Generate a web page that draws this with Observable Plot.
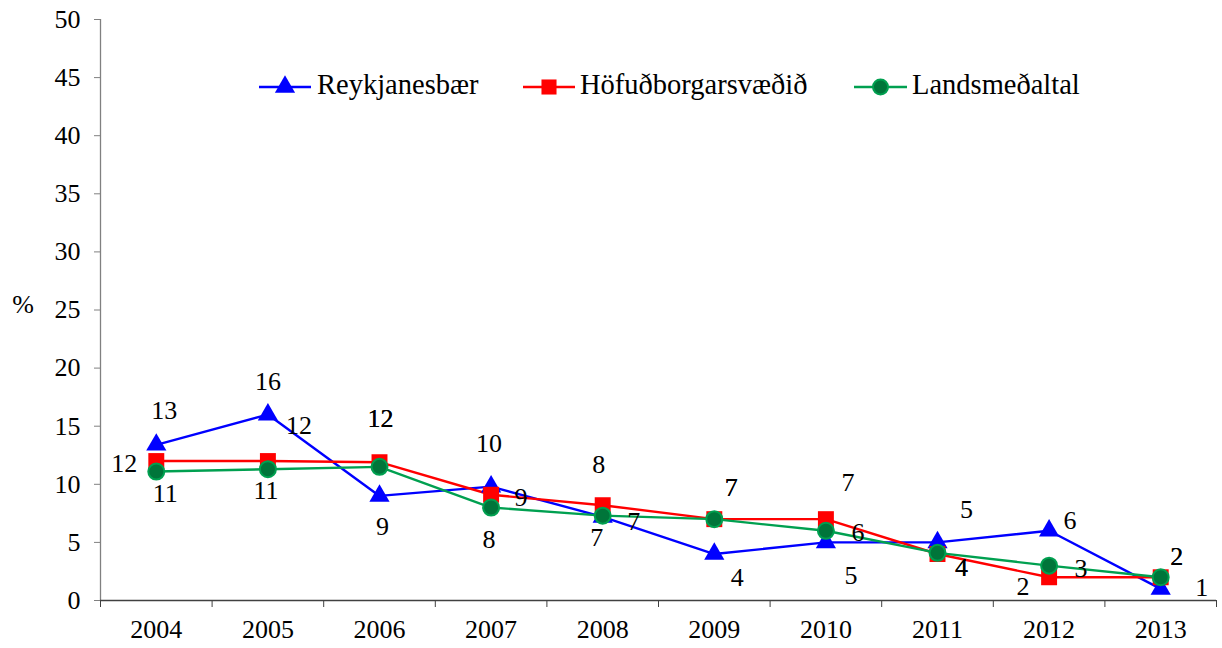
<!DOCTYPE html>
<html>
<head>
<meta charset="utf-8">
<script src="https://cdn.jsdelivr.net/npm/d3@7"></script>
<script src="https://cdn.jsdelivr.net/npm/@observablehq/plot@0.6"></script>
<style>
  html, body { margin: 0; padding: 0; background: #fff; }
  #chart { width: 1222px; height: 648px; position: relative; }
  #chart svg text { font-family: 'Liberation Serif', 'Times New Roman', serif; }
</style>
</head>
<body>
<div id="chart"></div>
<script>
// ---- data ----
const years = [2004, 2005, 2006, 2007, 2008, 2009, 2010, 2011, 2012, 2013];
const reykjanesbaer = [13.4, 16, 9, 9.8, 7.2, 4, 5, 5, 6, 1];
const hofudborgarsvaedid = [12, 12, 11.9, 9.1, 8.2, 7, 7, 4, 2, 2];
const landsmedaltal = [11.1, 11.3, 11.5, 8, 7.3, 7, 6, 4.1, 3, 2];
const seriesNames = ["Reykjanesbær", "Höfuðborgarsvæðið", "Landsmeðaltal"];
const yTicks = [0, 5, 10, 15, 20, 25, 30, 35, 40, 45, 50];
const yLabel = "%";

// ---- label placement (pixel offsets from each point) ----
const labelOffsets = [
  [[8,-34],[0,-33],[3,31],[-2,-43],[-6,21],[23,24],[25,33],[29,-33],[21,-10],[41,-1]],
  [[-32,3],[31,-35],[1,-44],[30,3],[-4,-41],[17,-31],[22,-36],[24,14],[-26,9],[16,-21]],
  [[9,22],[-2,21],[1,-48.648],[-2,32],[31,6],[17,-31],[32,2],[24,15.162],[32,3],[16,-21]]
];

// ---- styles ----
const lineColors = ["#0000ff", "#ff0000", "#00a050"];
const dotFill = ["#0000ff", "#ff0000", "#00753a"];
const dotStroke = ["#0000ff", "#ff0000", "#00a050"];
const symbols = ["triangle", "square", "circle"];
const radii = [7.5, 9, 8];
const fontFamily = "'Liberation Serif', 'Times New Roman', serif";

const seriesValues = [reykjanesbaer, hofudborgarsvaedid, landsmedaltal];
const table = seriesValues.map((vals, s) =>
  years.map((yr, i) => ({series: seriesNames[s], s, year: yr, value: vals[i],
    dx: labelOffsets[s][i][0], dy: labelOffsets[s][i][1]})));

const boundaries = d3.range(years[0] - 0.5, years[years.length - 1] + 1, 1);

const marks = [];
marks.push(Plot.ruleX([boundaries[0]], {stroke: "#808080", strokeWidth: 1.3}));
marks.push(Plot.ruleY([0], {stroke: "#404040", strokeWidth: 1.3}));
marks.push(Plot.axisY({ticks: yTicks, tickSize: 6, tickPadding: 14, stroke: "#808080", label: null, tickFormat: d => String(d)}));
marks.push(Plot.axisX({ticks: boundaries, tickSize: 7, tickFormat: () => "", stroke: "#404040", label: null}));
marks.push(Plot.axisX({ticks: years, tickSize: 0, tickPadding: 19, tickFormat: d => String(d), label: null}));

table.forEach((rows, s) => {
  marks.push(Plot.line(rows, {x: "year", y: "value", stroke: lineColors[s], strokeWidth: 2.4}));
});
table.forEach((rows, s) => {
  marks.push(Plot.dot(rows, {x: "year", y: "value", symbol: symbols[s], r: radii[s],
    fill: dotFill[s], stroke: dotStroke[s], strokeWidth: s === 2 ? 2 : 0}));
});
table.forEach(rows => rows.forEach(d => {
  marks.push(Plot.text([d], {x: "year", y: "value", text: d => String(Math.round(d.value)),
    dx: d.dx, dy: d.dy, fill: "#000", textAnchor: "middle", lineAnchor: "middle"}));
}));

const plot = Plot.plot({
  width: 1222,
  height: 648,
  marginLeft: 100,
  marginRight: 6,
  marginTop: 19,
  marginBottom: 48,
  x: {type: "linear", domain: [boundaries[0], boundaries[boundaries.length - 1]]},
  y: {type: "linear", domain: [0, 50]},
  style: {fontFamily, fontSize: "26px", color: "#000", background: "#fff"},
  marks
});
document.getElementById("chart").appendChild(plot);

// y-axis title and legend
const svg = d3.select(plot);
svg.append("text").attr("x", 23).attr("y", 307).attr("text-anchor", "middle")
  .attr("dominant-baseline", "middle").attr("font-size", 26).attr("font-family", fontFamily).text(yLabel);

const legendItems = [
  {x1: 259, x2: 311, tx: 317},
  {x1: 523, x2: 575, tx: 580},
  {x1: 854, x2: 907, tx: 912}
];
const ly = 87;
const legendR = [7.5, 8.5, 7.5];
legendItems.forEach((it, s) => {
  const g = svg.append("g");
  g.append("line").attr("x1", it.x1).attr("x2", it.x2).attr("y1", ly).attr("y2", ly)
    .attr("stroke", lineColors[s]).attr("stroke-width", 2.4);
  const symType = [d3.symbolTriangle, d3.symbolSquare, d3.symbolCircle][s];
  g.append("path").attr("transform", `translate(${(it.x1 + it.x2) / 2},${ly})`)
    .attr("d", d3.symbol(symType, Math.PI * legendR[s] * legendR[s])())
    .attr("fill", dotFill[s]).attr("stroke", dotStroke[s]).attr("stroke-width", s === 2 ? 2 : 0);
  g.append("text").attr("x", it.tx).attr("y", ly).attr("text-anchor", "start")
    .attr("dominant-baseline", "middle").attr("font-family", fontFamily)
    .attr("font-size", 28.5).text(seriesNames[s]);
});
</script>
</body>
</html>
